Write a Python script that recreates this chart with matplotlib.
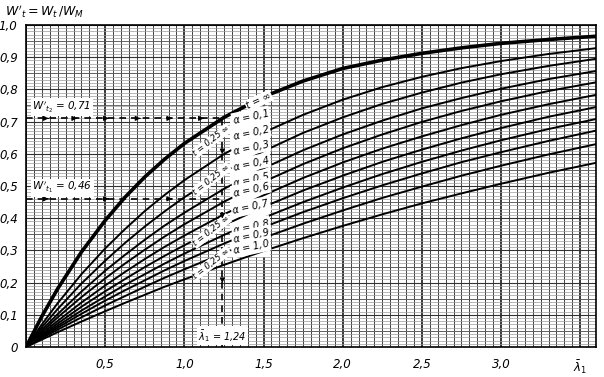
import matplotlib
matplotlib.use("Agg")
import matplotlib.pyplot as plt
import numpy as np
from matplotlib.ticker import MultipleLocator
from matplotlib.patches import Rectangle

# ---- data ----
lam = [0, 0.1, 0.2, 0.35, 0.5, 0.625, 0.75, 0.875, 1.0, 1.25, 1.5, 1.75, 2.0, 2.25, 2.5, 2.75, 3.0, 3.3, 3.6]
w_inf = [0, 0.095, 0.181, 0.295, 0.393, 0.465, 0.528, 0.583, 0.632, 0.713, 0.777, 0.826, 0.865, 0.891, 0.912, 0.929, 0.943, 0.955, 0.965]
w_01 = [0, 0.070, 0.136, 0.226, 0.306, 0.366, 0.422, 0.472, 0.518, 0.599, 0.666, 0.721, 0.768, 0.807, 0.839, 0.866, 0.888, 0.910, 0.928]
w_02 = [0, 0.061, 0.118, 0.197, 0.268, 0.323, 0.374, 0.421, 0.465, 0.542, 0.608, 0.665, 0.713, 0.755, 0.790, 0.821, 0.847, 0.873, 0.895]
w_03 = [0, 0.053, 0.102, 0.172, 0.237, 0.286, 0.333, 0.377, 0.417, 0.491, 0.555, 0.611, 0.660, 0.703, 0.741, 0.773, 0.802, 0.832, 0.857]
w_04 = [0, 0.047, 0.092, 0.155, 0.213, 0.259, 0.302, 0.343, 0.381, 0.451, 0.513, 0.568, 0.617, 0.660, 0.699, 0.733, 0.763, 0.795, 0.822]
w_05 = [0, 0.042, 0.081, 0.138, 0.191, 0.233, 0.273, 0.311, 0.346, 0.412, 0.471, 0.525, 0.573, 0.616, 0.654, 0.689, 0.721, 0.754, 0.783]
w_06 = [0, 0.037, 0.073, 0.125, 0.173, 0.211, 0.248, 0.283, 0.316, 0.378, 0.435, 0.486, 0.532, 0.575, 0.613, 0.648, 0.680, 0.715, 0.745]
w_07 = [0, 0.034, 0.066, 0.113, 0.157, 0.193, 0.226, 0.259, 0.290, 0.348, 0.401, 0.450, 0.495, 0.537, 0.575, 0.610, 0.642, 0.677, 0.708]
w_08 = [0, 0.031, 0.060, 0.103, 0.144, 0.176, 0.207, 0.238, 0.267, 0.321, 0.372, 0.419, 0.462, 0.502, 0.539, 0.574, 0.605, 0.640, 0.672]
w_09 = [0, 0.027, 0.054, 0.092, 0.129, 0.158, 0.187, 0.215, 0.241, 0.292, 0.339, 0.383, 0.424, 0.463, 0.498, 0.532, 0.563, 0.598, 0.630]
w_10 = [0, 0.023, 0.046, 0.079, 0.111, 0.137, 0.162, 0.187, 0.210, 0.255, 0.298, 0.338, 0.376, 0.412, 0.446, 0.477, 0.507, 0.541, 0.572]
curves = [w_01, w_02, w_03, w_04, w_05, w_06, w_07, w_08, w_09, w_10]
alpha_labels = ['0,1', '0,2', '0,3', '0,4', '0,5', '0,6', '0,7', '0,8', '0,9', '1,0']
alpha_label_y = [0.715, 0.665, 0.620, 0.570, 0.520, 0.490, 0.435, 0.375, 0.345, 0.310]

xtick_vals = [0, 0.5, 1.0, 1.5, 2.0, 2.5, 3.0, 3.5]
xtick_labels = ['', '0,5', '1,0', '1,5', '2,0', '2,5', '3,0', r'$\bar{\lambda}_1$']
ytick_vals = [0, 0.1, 0.2, 0.3, 0.4, 0.5, 0.6, 0.7, 0.8, 0.9, 1.0]
ytick_labels = ['0', '0,1', '0,2', '0,3', '0,4', '0,5', '0,6', '0,7', '0,8', '0,9', '1,0']

lam_1 = 1.24
w_t2 = 0.71
w_t1 = 0.46
t_label_y = [0.64, 0.52, 0.36, 0.26]

plt.rcParams['font.family'] = ['DejaVu Sans']
plt.rcParams['mathtext.fontset'] = 'dejavusans'

fig = plt.figure(figsize=(6.04, 3.77), dpi=100)
ax = fig.add_axes([26/604, 1-347/377, 570/604, 322/377])
ax.set_xlim(0, 3.6)
ax.set_ylim(0, 1.0)

# grid
ax.xaxis.set_minor_locator(MultipleLocator(0.05))
ax.yaxis.set_minor_locator(MultipleLocator(0.01))
ax.set_xticks(xtick_vals)
ax.set_xticklabels(xtick_labels, fontstyle='italic', fontsize=8.5)
ax.set_yticks(ytick_vals)
ax.set_yticklabels(ytick_labels, fontstyle='italic', fontsize=8.5)
ax.tick_params(which='both', length=0)
ax.tick_params(axis='x', pad=8)
ax.tick_params(axis='y', pad=6)
ax.grid(which='minor', axis='x', color='#222222', lw=0.6)
ax.grid(which='major', axis='x', color='black', lw=1.1)
ax.grid(which='minor', axis='y', color='#9a9a9a', lw=0.5)
ax.grid(which='major', axis='y', color='#333333', lw=0.8)
for yv in np.arange(0.05, 1.0, 0.1):
    ax.axhline(yv, color='#555555', lw=0.6, zorder=0.6)
ax.set_axisbelow(True)
for s in ax.spines.values():
    s.set_linewidth(1.2)

# white strip behind alpha labels
ax.add_patch(Rectangle((1.29, 0.28), 0.25, 0.43, facecolor='white', edgecolor='none', zorder=1.5))

# curves
ax.plot(lam, w_inf, color='black', lw=2.6, zorder=3, solid_joinstyle='round')
for c in curves:
    ax.plot(lam, c, color='black', lw=1.4, zorder=3, solid_joinstyle='round')

# alpha labels
for lab, yy in zip(alpha_labels, alpha_label_y):
    ax.text(1.42, yy, r'$\alpha$ = ' + lab, fontsize=7, fontstyle='italic', rotation=12,
            ha='center', va='center', zorder=5,
            bbox=dict(facecolor='white', edgecolor='none', pad=0.6))
ax.text(1.47, 0.765, 't = ∞', fontsize=7, fontstyle='italic', rotation=25,
        ha='center', va='center', zorder=5,
        bbox=dict(facecolor='white', edgecolor='none', pad=0.6))
for yy in t_label_y:
    ax.text(1.17, yy, 't = 0,25 ∞', fontsize=6, fontstyle='italic', rotation=38,
            ha='center', va='center', zorder=5,
            bbox=dict(facecolor='white', edgecolor='none', pad=0.5))

# dashed guide lines
dash = dict(color='black', lw=1.2, ls=(0, (4, 3)), zorder=4)
ax.plot([0, lam_1], [w_t2, w_t2], **dash)
ax.plot([0, lam_1], [w_t1, w_t1], **dash)
ax.plot([lam_1, lam_1], [0, w_t2], **dash)
for xa in [0.12, 0.3, 0.5, 0.7, 0.9, 1.1]:
    ax.annotate('', xy=(xa + 0.04, w_t2), xytext=(xa, w_t2),
                arrowprops=dict(arrowstyle='-|>', color='black', lw=0.8, mutation_scale=7), zorder=5)
for xa in [0.12, 0.5, 0.9]:
    ax.annotate('', xy=(xa + 0.04, w_t1), xytext=(xa, w_t1),
                arrowprops=dict(arrowstyle='-|>', color='black', lw=0.8, mutation_scale=7), zorder=5)
for ya in [0.62, 0.42, 0.22]:
    ax.annotate('', xy=(lam_1, ya - 0.03), xytext=(lam_1, ya),
                arrowprops=dict(arrowstyle='-|>', color='black', lw=0.8, mutation_scale=7), zorder=5)

# value labels
ax.text(0.04, 0.745, r"$W'_{t_2}$ = 0,71", fontsize=7.5, fontstyle='italic', ha='left', va='center',
        zorder=5, bbox=dict(facecolor='white', edgecolor='none', pad=1))
ax.text(0.04, 0.495, r"$W'_{t_1}$ = 0,46", fontsize=7.5, fontstyle='italic', ha='left', va='center',
        zorder=5, bbox=dict(facecolor='white', edgecolor='none', pad=1))
ax.text(lam_1, 0.035, r"$\bar{\lambda}_1$ = 1,24", fontsize=7, fontstyle='italic', ha='center', va='center',
        zorder=5, bbox=dict(facecolor='white', edgecolor='none', pad=1))

fig.text(5/604, 1-12/377, r"$W'_t = W_t\,/W_M$", fontsize=9, ha='left', va='center')

fig.savefig('out.png', dpi=100, facecolor='white')
